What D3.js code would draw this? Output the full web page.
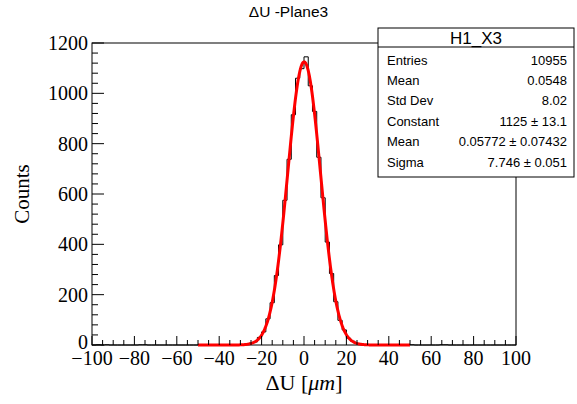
<!DOCTYPE html>
<html>
<head>
<meta charset="utf-8">
<script src="https://cdn.jsdelivr.net/npm/d3@7"></script>
<style>
  html, body { margin: 0; padding: 0; background: #fff; }
  svg { display: block; }
</style>
</head>
<body>
<div id="chart"></div>
<script>
// Histogram H1_X3: residuals ΔU, 100 bins of 2 µm from -100 to 100
const binLow = -100, binHigh = 100, binWidth = 2;
// bin centres with non-zero content
const binCenters = [-97, -93, -77, -75, -31, -29, -27, -25, -23, -21, -19, -17, -15, -13, -11, -9, -7, -5, -3, -1,
                    1, 3, 5, 7, 9, 11, 13, 15, 17, 19, 21, 23, 25, 27, 29, 31, 51, 65, 67];
const binCounts  = [1, 1, 1, 1, 1, 2, 3, 7, 12, 30, 52, 104, 168, 276, 398, 575, 738, 915, 1060, 1098,
                    1145, 1030, 928, 746, 585, 409, 284, 172, 98, 60, 27, 15, 6, 3, 1, 1, 1, 1, 1];

// Gaussian fit result
const fitConstant = 1125, fitMean = 0.05772, fitSigma = 7.746;
const fitRange = [-50, 50];

// Statistics box rows
const statTitle = "H1_X3";
const statLabels = ["Entries", "Mean", "Std Dev", "Constant", "Mean", "Sigma"];
const statValues = ["10955", "0.0548", "8.02", "1125 \u00b1 13.1", "0.05772 \u00b1 0.07432", "7.746 \u00b1 0.051"];

const xTicks = [-100, -80, -60, -40, -20, 0, 20, 40, 60, 80, 100];
const yTicks = [0, 200, 400, 600, 800, 1000, 1200];

const W = 577, H = 404;
const frame = { left: 92, right: 516, top: 43, bottom: 345 };

const svg = d3.select("#chart").append("svg").attr("width", W).attr("height", H);

const x = d3.scaleLinear().domain([binLow, binHigh]).range([frame.left, frame.right]);
const y = d3.scaleLinear().domain([0, 1200]).range([frame.bottom, frame.top]);

// full bin array
const nBins = (binHigh - binLow) / binWidth;
const bins = d3.range(nBins).map(i => {
  const c = binLow + binWidth * (i + 0.5);
  const k = binCenters.indexOf(c);
  return { x0: binLow + binWidth * i, x1: binLow + binWidth * (i + 1), n: k >= 0 ? binCounts[k] : 0 };
});

const serif = "'Liberation Serif', 'Times New Roman', serif";
const sans = "'Liberation Sans', Arial, Helvetica, sans-serif";

// frame
svg.append("rect")
  .attr("x", frame.left).attr("y", frame.top)
  .attr("width", frame.right - frame.left).attr("height", frame.bottom - frame.top)
  .attr("fill", "none").attr("stroke", "#000").attr("stroke-width", 1);

// histogram outline
const outline = [];
bins.forEach(b => { outline.push([b.x0, b.n]); outline.push([b.x1, b.n]); });
svg.append("path")
  .attr("d", d3.line().x(d => x(d[0])).y(d => y(d[1]))(outline))
  .attr("fill", "none").attr("stroke", "#000").attr("stroke-width", 1);

// fit curve
const fitPts = d3.range(fitRange[0], fitRange[1] + 0.001, 0.25).map(v =>
  [v, fitConstant * Math.exp(-0.5 * Math.pow((v - fitMean) / fitSigma, 2))]);
svg.append("path")
  .attr("d", d3.line().x(d => x(d[0])).y(d => y(d[1])).curve(d3.curveLinear)(fitPts))
  .attr("fill", "none").attr("stroke", "#ff0000").attr("stroke-width", 3)
  .attr("stroke-linejoin", "round");

// x axis ticks (inside, pointing up)
const gx = svg.append("g");
d3.range(binLow, binHigh + 0.001, 5).forEach(v => {
  const major = v % 20 === 0;
  gx.append("line")
    .attr("x1", x(v)).attr("x2", x(v))
    .attr("y1", frame.bottom).attr("y2", frame.bottom - (major ? 9 : 5))
    .attr("stroke", "#000").attr("stroke-width", 1);
});
xTicks.forEach(v => {
  gx.append("text")
    .attr("x", x(v)).attr("y", frame.bottom + 20)
    .attr("text-anchor", "middle")
    .attr("font-family", serif).attr("font-size", 20)
    .text(v < 0 ? "\u2212" + Math.abs(v) : String(v));
});

// y axis ticks (inside, pointing right)
const gy = svg.append("g");
d3.range(0, 1200.001, 40).forEach(v => {
  const major = v % 200 === 0;
  gy.append("line")
    .attr("x1", frame.left).attr("x2", frame.left + (major ? 12 : 6))
    .attr("y1", y(v)).attr("y2", y(v))
    .attr("stroke", "#000").attr("stroke-width", 1);
});
yTicks.forEach(v => {
  gy.append("text")
    .attr("x", frame.left - 4).attr("y", y(v) - (v === 0 ? 3 : 0))
    .attr("text-anchor", "end").attr("dominant-baseline", "central")
    .attr("font-family", serif).attr("font-size", 20)
    .text(String(v));
});

// axis titles
const xt = svg.append("text")
  .attr("x", (frame.left + frame.right) / 2).attr("y", 390)
  .attr("text-anchor", "middle")
  .attr("font-family", serif).attr("font-size", 22);
xt.append("tspan").text("\u0394U [");
xt.append("tspan").attr("font-style", "italic").text("\u03bcm");
xt.append("tspan").text("]");

svg.append("text")
  .attr("transform", `translate(29, ${(frame.top + frame.bottom) / 2}) rotate(-90)`)
  .attr("text-anchor", "middle")
  .attr("font-family", serif).attr("font-size", 21)
  .text("Counts");

// title
svg.append("text")
  .attr("x", W / 2).attr("y", 17)
  .attr("text-anchor", "middle")
  .attr("font-family", sans).attr("font-size", 15.5)
  .text("\u0394U -Plane3");

// statistics box
const box = { left: 378, right: 574, top: 28, bottom: 177, titleH: 19 };
svg.append("rect")
  .attr("x", box.left).attr("y", box.top)
  .attr("width", box.right - box.left).attr("height", box.bottom - box.top)
  .attr("fill", "#fff").attr("stroke", "#000").attr("stroke-width", 1);
svg.append("line")
  .attr("x1", box.left).attr("x2", box.right)
  .attr("y1", box.top + box.titleH).attr("y2", box.top + box.titleH)
  .attr("stroke", "#000").attr("stroke-width", 1);
svg.append("text")
  .attr("x", (box.left + box.right) / 2).attr("y", box.top + box.titleH / 2 + 1)
  .attr("text-anchor", "middle").attr("dominant-baseline", "central")
  .attr("font-family", sans).attr("font-size", 17)
  .text(statTitle);
const rowH = 20.4, firstRow = 60;
statLabels.forEach((lab, i) => {
  const cy = firstRow + rowH * i;
  svg.append("text")
    .attr("x", box.left + 9).attr("y", cy)
    .attr("dominant-baseline", "central")
    .attr("font-family", sans).attr("font-size", 13)
    .text(lab);
  svg.append("text")
    .attr("x", box.right - 7).attr("y", cy)
    .attr("text-anchor", "end").attr("dominant-baseline", "central")
    .attr("font-family", sans).attr("font-size", 13)
    .text(statValues[i]);
});
</script>
</body>
</html>
